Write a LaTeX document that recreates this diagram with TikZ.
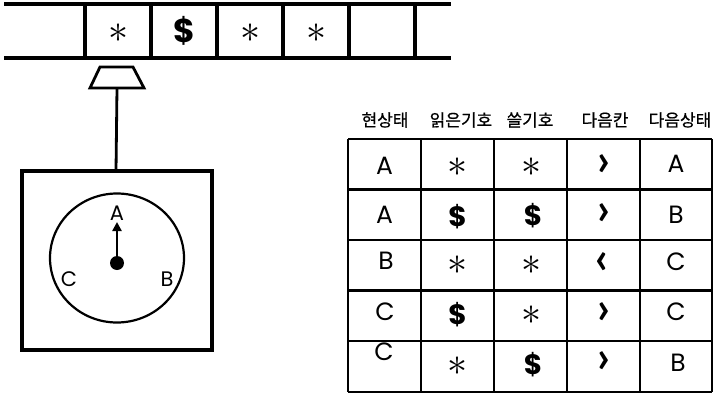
\RequirePackage{fix-cm}
\documentclass[tikz,border=0pt]{standalone}
\usepackage{fontspec}
\usetikzlibrary{arrows.meta}
\newfontfamily\kr[FakeBold=0.7]{Noto Sans CJK KR}
\newfontfamily\pop{Poppins}
\newfontfamily\chevfont{Lato}
\tikzset{
  thick line/.style={line width=3.3pt},
  grid line/.style={line width=2.6pt},
  hdr/.style={font=\kr\fontsize{17}{18}\selectfont, inner sep=0pt},
  cell/.style={font=\pop\fontsize{25}{26}\selectfont, inner sep=0pt},
  chev/.style={font=\chevfont\bfseries\fontsize{44}{44}\selectfont, inner sep=0pt},
  star/.style={font=\fontsize{40}{40}\selectfont, inner sep=0pt},
  dollar/.style={font=\pop\bfseries\fontsize{28}{28}\selectfont, inner sep=0pt},
  clk/.style={font=\pop\fontsize{21}{22}\selectfont, inner sep=0pt},
}
\begin{document}
\begin{tikzpicture}[x=1pt,y=-1pt]
\useasboundingbox (0,0) rectangle (721,402);
% tape
\draw[thick line] (4,4) -- (451,4);
\draw[thick line] (4,58) -- (451,58);
\foreach \x in {85,151,217,283,349,415} \draw[thick line] (\x,4) -- (\x,58);
\node[star] (t1) at (118,33) {$\ast$};
\node[dollar, font=\pop\bfseries\fontsize{33}{33}\selectfont] (t2) at (184,31) {\$};
\node[star] (t3) at (250,33) {$\ast$};
\node[star] (t4) at (316,33) {$\ast$};
% head
\draw[line width=2.8pt, line join=miter] (100,67) -- (133,67) -- (144,88) -- (90,88) -- cycle;
\coordinate (headbot) at (117,88);
\coordinate (boxtop) at (116,171);
\draw[line width=2.8pt] (headbot) -- (boxtop);
% control box
\draw[thick line] (22,171) rectangle (212,350);
\draw[line width=2.2pt] (117,258) ellipse [x radius=67, y radius=64.5];
\node[circle, fill, inner sep=0pt, minimum size=14pt] (dot) at (117,263) {};
\coordinate (tip) at (117,222);
\draw[line width=2.4pt, -{Triangle[length=9pt,width=9pt]}] (dot) -- (tip);
\node[clk] (ca) at (117,213) {A};
\node[clk] (cc) at (69,279) {C};
\node[clk] (cb) at (167,279) {B};
% table headers
\node[hdr] (h1) at (385,120) {현상태};
\node[hdr] (h2) at (461,120) {읽은기호};
\node[hdr] (h3) at (530,120) {쓸기호};
\node[hdr] (h4) at (605,120) {다음칸};
\node[hdr] (h5) at (680,120) {다음상태};
% table grid
\foreach \y in {139,189.5,240,290.5,341,392} \draw[grid line] (348,\y) -- (712,\y);
\foreach \x in {348,421,494,567,640,712} \draw[grid line] (\x,139) -- (\x,392);
% row 1
\node[cell] (r1a) at (384.5,166) {A};
\node[star] (r1b) at (457.5,167) {$\ast$};
\node[star] (r1c) at (531,167) {$\ast$};
\node[chev] (r1d) at (603.5,165) {›};
\node[cell] (r1e) at (676,164) {A};
% row 2
\node[cell] (r2a) at (384.5,215) {A};
\node[dollar] (r2b) at (457.5,217) {\$};
\node[dollar] (r2c) at (533,216) {\$};
\node[chev] (r2d) at (603.5,214) {›};
\node[cell] (r2e) at (676,215) {B};
% row 3
\node[cell] (r3a) at (386,261) {B};
\node[star] (r3b) at (457.5,265) {$\ast$};
\node[star] (r3c) at (531,265) {$\ast$};
\node[chev] (r3d) at (602,263) {‹};
\node[cell] (r3e) at (676,262) {C};
% row 4
\node[cell] (r4a) at (385,312) {C};
\node[dollar] (r4b) at (457.5,315) {\$};
\node[star] (r4c) at (531,315) {$\ast$};
\node[chev] (r4d) at (603.5,313) {›};
\node[cell] (r4e) at (676,312) {C};
% row 5
\node[cell] (r5a) at (384,352) {C};
\node[star] (r5b) at (457.5,366) {$\ast$};
\node[dollar] (r5c) at (533,365) {\$};
\node[chev] (r5d) at (603.5,362) {›};
\node[cell] (r5e) at (678,363) {B};
\end{tikzpicture}
\end{document}
